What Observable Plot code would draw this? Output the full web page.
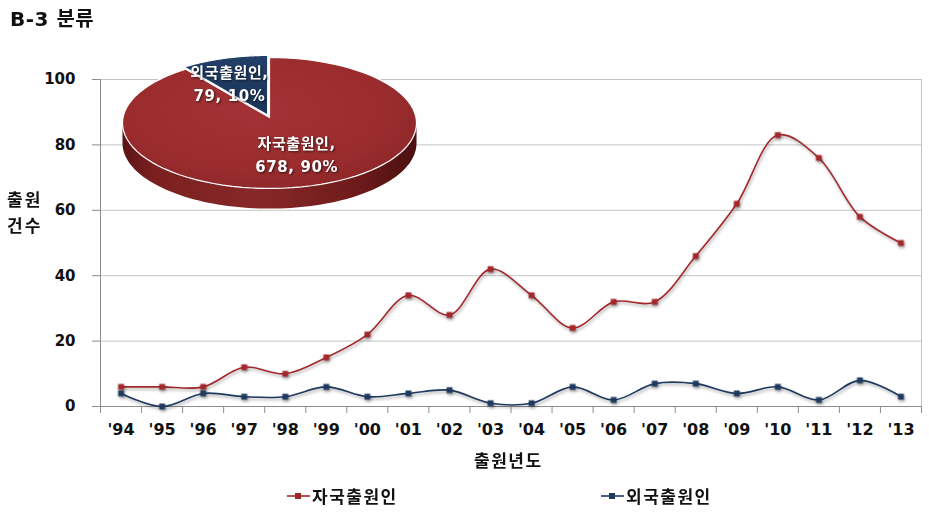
<!DOCTYPE html>
<html><head><meta charset="utf-8">
<script src="https://cdn.jsdelivr.net/npm/d3@7"></script>
<script src="https://cdn.jsdelivr.net/npm/@observablehq/plot@0.6"></script>
<style>
body{margin:0;background:#fff;font-family:"DejaVu Sans","Noto Sans CJK KR",sans-serif;}
#wrap{position:relative;width:929px;height:512px;overflow:hidden;background:#fff}
#wrap > svg{position:absolute;left:0;top:0}
#main g[aria-label="line"], #main g[aria-label="dot"]{filter:drop-shadow(1px 2px 1.5px rgba(0,0,0,0.35));}
#pie g[aria-label="text"]{filter:drop-shadow(1px 1px 1px rgba(0,0,0,0.6));letter-spacing:0.6px}
.t{position:absolute;font-weight:bold;color:#111;white-space:nowrap;line-height:1}
.lg{position:absolute;display:flex;align-items:center;font-weight:bold;font-size:17px;color:#111;letter-spacing:1.5px}
</style></head><body><div id="wrap"></div>
<script>
// ---- data ----
const years = [1994,1995,1996,1997,1998,1999,2000,2001,2002,2003,2004,2005,2006,2007,2008,2009,2010,2011,2012,2013];
const domestic = [6,6,6,12,10,15,22,34,28,42,34,24,32,32,46,62,83,76,58,50];
const foreign  = [4,0,4,3,3,6,3,4,5,1,1,6,2,7,7,4,6,2,8,3];
const seriesNames = ["자국출원인","외국출원인"];
const seriesColors = ["#a3282c","#1f3a60"];
const pieValues = [678, 79];
const yTicks = [0,20,40,60,80,100];

const font = '"DejaVu Sans","Noto Sans CJK KR",sans-serif';
const wrap = document.getElementById("wrap");

const rows = years.flatMap((yr,i)=>[
  {year:yr, value:domestic[i], s:seriesNames[0]},
  {year:yr, value:foreign[i], s:seriesNames[1]}
]);
const bounds = d3.range(years.length+1).map(i => years[0]-0.5+i);

const main = Plot.plot({
  width:929, height:512, marginTop:79, marginBottom:106, marginLeft:100, marginRight:8,
  style:{fontFamily:font, fontWeight:"bold", color:"#111", background:"transparent", overflow:"visible"},
  x:{type:"linear", domain:[years[0]-0.5, years[years.length-1]+0.5]},
  y:{domain:[0,100]},
  color:{domain:seriesNames, range:seriesColors},
  marks:[
    Plot.gridY(yTicks.slice(1), {stroke:"#c4c4c4", strokeOpacity:1}),
    Plot.ruleX([years[years.length-1]+0.5], {stroke:"#c4c4c4"}),
    Plot.axisY(yTicks, {tickSize:8, tickPadding:17, fontSize:15, label:null, stroke:"#8c8c8c"}),
    Plot.ruleX([years[0]-0.5], {stroke:"#8c8c8c"}),
    Plot.ruleY([0], {stroke:"#8c8c8c"}),
    Plot.axisX(bounds, {tickSize:7, tickFormat:()=>"", stroke:"#8c8c8c", label:null}),
    Plot.axisX(years, {tickSize:0, tickPadding:17, fontSize:16, tickFormat:d=>"'"+String(d).slice(2), label:null}),
    Plot.line(rows, {x:"year", y:"value", stroke:"s", z:"s", curve:"catmull-rom", strokeWidth:1.6}),
    Plot.dot(rows, {x:"year", y:"value", fill:"s", symbol:"square", r:3.3})
  ]
});
main.id = "main";
wrap.appendChild(main);

// ---- pie inset (perspective-projected circle) ----
const arcs = d3.pie().sort(null)(pieValues);
const total = d3.sum(pieValues);
const persp = 0.084;            // perspective strength
const proj = (u, v) => ({x: u/(1+persp*v), y: v/(1+persp*v)});
const explode = [0, 0.04];
const depth = 0.31;
const N = 90;
const topPts = [], sidePts = [];
arcs.forEach((a,k)=>{
  const mid = (a.startAngle+a.endAngle)/2;
  const ox = explode[k]*Math.sin(mid), oy = explode[k]*Math.cos(mid);
  topPts.push({k, ...proj(ox, oy)});
  for (let j=0;j<=N;j++){
    const t = a.startAngle + (a.endAngle-a.startAngle)*j/N;
    topPts.push({k, ...proj(ox+Math.sin(t), oy+Math.cos(t))});
  }
  topPts.push({k, ...proj(ox, oy)});
  const tA = Math.acos(-persp);
  const f0 = Math.max(a.startAngle, tA), f1 = Math.min(a.endAngle, 2*Math.PI - tA);
  if (f1 > f0){
    const upper = [], lower = [];
    for (let j=0;j<=N;j++){
      const t = f0 + (f1-f0)*j/N;
      const p = proj(ox+Math.sin(t), oy+Math.cos(t));
      upper.push({k, x:p.x, y:p.y});
      lower.push({k, x:p.x, y:p.y-depth});
    }
    sidePts.push(...upper, ...lower.reverse(), upper[0]);
  }
});
const labelR = [0.55, 0.6];
const labelDx = [0, -13];
const labels = arcs.map((a,k)=>{
  const mid = (a.startAngle+a.endAngle)/2;
  return {...proj(labelR[k]*Math.sin(mid), labelR[k]*Math.cos(mid)), dx:labelDx[k],
    text:`${seriesNames[k]},\n${pieValues[k]}, ${Math.round(100*pieValues[k]/total)}%`};
});
const topFill = ["url(#pieTopR)", "url(#pieTopB)"];
const pie = Plot.plot({
  width:929, height:512, margin:0,
  style:{fontFamily:font, background:"transparent", overflow:"visible"},
  x:{domain:[-1,1], range:[122.5,415.5], axis:null},
  y:{domain:[-1,1], range:[182,52], axis:null},
  marks:[
    Plot.line(sidePts, {x:"x", y:"y", fill:"url(#pieSide)", stroke:"none"}),
    ...arcs.map((a,k)=>Plot.line(topPts.filter(d=>d.k===k), {x:"x", y:"y", fill:topFill[k], stroke:"#fff", strokeWidth:1.2})),
    ...labels.map(l=>Plot.text([l], {x:"x", y:"y", text:"text", dx:l.dx, fill:"#fff", fontSize:15, fontWeight:"bold", lineHeight:1.55}))
  ]
});
pie.id = "pie";
const defs = d3.select(pie).insert("defs", ":first-child");
const g1 = defs.append("linearGradient").attr("id","pieSide").attr("x1",0).attr("x2",1).attr("y1",0).attr("y2",0);
[[0,"#5a1414"],[0.1,"#7a1f1f"],[0.45,"#882828"],[0.8,"#6e1b1b"],[1,"#4a0f0f"]].forEach(([o,c])=>g1.append("stop").attr("offset",o).attr("stop-color",c));
const g2 = defs.append("radialGradient").attr("id","pieTopR").attr("cx",0.45).attr("cy",0.4).attr("r",0.65);
[[0,"#a23235"],[0.7,"#9a2c2e"],[1,"#8c2627"]].forEach(([o,c])=>g2.append("stop").attr("offset",o).attr("stop-color",c));
const g3 = defs.append("linearGradient").attr("id","pieTopB").attr("x1",0).attr("x2",0).attr("y1",0).attr("y2",1);
[[0,"#23406a"],[1,"#1a3356"]].forEach(([o,c])=>g3.append("stop").attr("offset",o).attr("stop-color",c));
wrap.appendChild(pie);

// ---- texts ----
function addText(txt, css){ const d=document.createElement("div"); d.className="t"; d.innerHTML=txt; Object.assign(d.style, css); wrap.appendChild(d); return d; }
addText("B-3 분류", {left:"10px", top:"9px", fontSize:"20px", letterSpacing:"0.5px"});
addText("출원<br>건수", {left:"7px", top:"187px", fontSize:"17px", lineHeight:"26px", letterSpacing:"2px"});
addText("출원년도", {left:"474px", top:"453px", fontSize:"17px", letterSpacing:"1.5px"});

const legendX = [287, 601];
seriesNames.forEach((n,k)=>{
  const d = document.createElement("div"); d.className="lg";
  d.style.left = legendX[k]+"px"; d.style.top = "483px";
  d.innerHTML = `<svg width="24" height="20" style="margin-right:1px"><line x1="0" x2="23" y1="10" y2="10" stroke="${seriesColors[k]}" stroke-width="1.6"/><rect x="8" y="7" width="6" height="6" fill="${seriesColors[k]}"/></svg><span>${n}</span>`;
  wrap.appendChild(d);
});
</script></body></html>
